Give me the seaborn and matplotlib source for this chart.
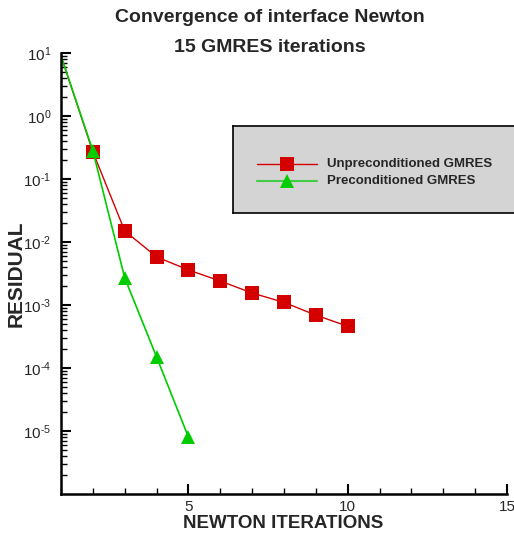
import numpy as np
import pandas as pd
import matplotlib
matplotlib.use('Agg')
import matplotlib.pyplot as plt
import matplotlib.ticker as mticker
import seaborn as sns

# values
unprec_iter = [1, 2, 3, 4, 5, 6, 7, 8, 9, 10]
unprec_res = [9.0, 0.27, 0.015, 0.0058, 0.0036, 0.0024, 0.00155, 0.0011, 0.00069, 0.00046]
prec_iter = [1, 2, 3, 4, 5]
prec_res = [9.0, 0.28, 0.0027, 0.00015, 8.0e-6]
series_names = ['Unpreconditioned GMRES', 'Preconditioned GMRES']

df = pd.concat([
    pd.DataFrame({'iter': unprec_iter, 'res': unprec_res, 'solver': series_names[0]}),
    pd.DataFrame({'iter': prec_iter, 'res': prec_res, 'solver': series_names[1]}),
])

sns.set_style('ticks')
plt.rcParams['font.family'] = ['Liberation Sans', 'DejaVu Sans']
plt.rcParams['mathtext.fontset'] = 'custom'
plt.rcParams['mathtext.rm'] = 'Liberation Sans'
plt.rcParams['mathtext.it'] = 'Liberation Sans'


def dec_label(v, pos):
    e = int(round(np.log10(v)))
    # short hyphen in the exponent, like the reference
    exp = ('\u2010%d' % -e) if e < 0 else '%d' % e
    return r'$\mathregular{10^{%s}}$' % exp


fig = plt.figure(figsize=(5.14, 5.40), dpi=100)
ax = fig.add_axes([61 / 514, 1 - 494 / 540, 446 / 514, 441 / 540])

red = '#d40000'
green = '#00cc00'
styles = {series_names[0]: (red, 's', 1.0), series_names[1]: (green, '^', 1.2)}
for name, grp in df.groupby('solver', sort=False):
    col, mk, lw = styles[name]
    sns.lineplot(data=grp, x='iter', y='res', ax=ax, color=col, lw=lw,
                 marker=mk, markersize=10, markeredgewidth=0, markevery=list(range(1, len(grp))),
                 label=name, legend=False)

ax.set_yscale('log')
ax.set_xlim(1, 15)
ax.set_ylim(1e-6, 10)
ax.xaxis.set_major_locator(mticker.FixedLocator([5, 10, 15]))
ax.xaxis.set_minor_locator(mticker.MultipleLocator(1))
ax.yaxis.set_major_locator(mticker.FixedLocator([1e-5, 1e-4, 1e-3, 1e-2, 1e-1, 1, 10]))
ax.yaxis.set_major_formatter(mticker.FuncFormatter(dec_label))
ax.yaxis.set_minor_locator(mticker.LogLocator(base=10, subs=np.arange(2, 10), numticks=20))
ax.yaxis.set_minor_formatter(mticker.NullFormatter())
ax.tick_params(which='major', direction='in', length=7, width=1.5, labelsize=11, color='black')
ax.tick_params(which='minor', direction='in', length=4, width=1.0, color='black')
ax.tick_params(axis='y', which='major', pad=7)
ax.tick_params(axis='x', which='major', pad=4)
for s in ['top', 'right']:
    ax.spines[s].set_visible(False)
for s in ['left', 'bottom']:
    ax.spines[s].set_linewidth(1.8)
    ax.spines[s].set_color('black')

ax.set_xlabel('NEWTON ITERATIONS', fontsize=13.5, fontweight='bold')
ax.set_ylabel('RESIDUAL', fontsize=15, fontweight='bold')
ax.xaxis.set_label_coords((283 - 61) / 446, -(515 - 494) / 441)
ax.yaxis.set_label_coords((26 - 61) / 446, 0.5)

fig.text(270 / 514, 1 - 18 / 540, 'Convergence of interface Newton', ha='center', va='center',
         fontsize=14, fontweight='bold')
fig.text(270 / 514, 1 - 47 / 540, '15 GMRES iterations', ha='center', va='center',
         fontsize=14, fontweight='bold')

# legend box in the upper right
leg_ax = fig.add_axes([233 / 514, 1 - 213 / 540, 290 / 514, 87 / 540])
leg_ax.set_xlim(0, 290)
leg_ax.set_ylim(87, 0)
leg_ax.set_xticks([])
leg_ax.set_yticks([])
leg_ax.set_facecolor('#d4d4d4')
for s in leg_ax.spines.values():
    s.set_linewidth(1.2)
    s.set_color('black')
leg_ax.plot([24, 84], [38, 38], color=red, lw=1.0)
leg_ax.plot([54], [38], marker='s', color=red, markersize=10, markeredgewidth=0)
leg_ax.plot([24, 84], [55, 55], color='#44cc44', lw=1.5)
leg_ax.plot([54], [55], marker='^', color=green, markersize=10, markeredgewidth=0)
leg_ax.text(94, 38, series_names[0], va='center', fontsize=9.5, fontweight='bold')
leg_ax.text(94, 55, series_names[1], va='center', fontsize=9.5, fontweight='bold')

fig.savefig('out.png', dpi=100)
